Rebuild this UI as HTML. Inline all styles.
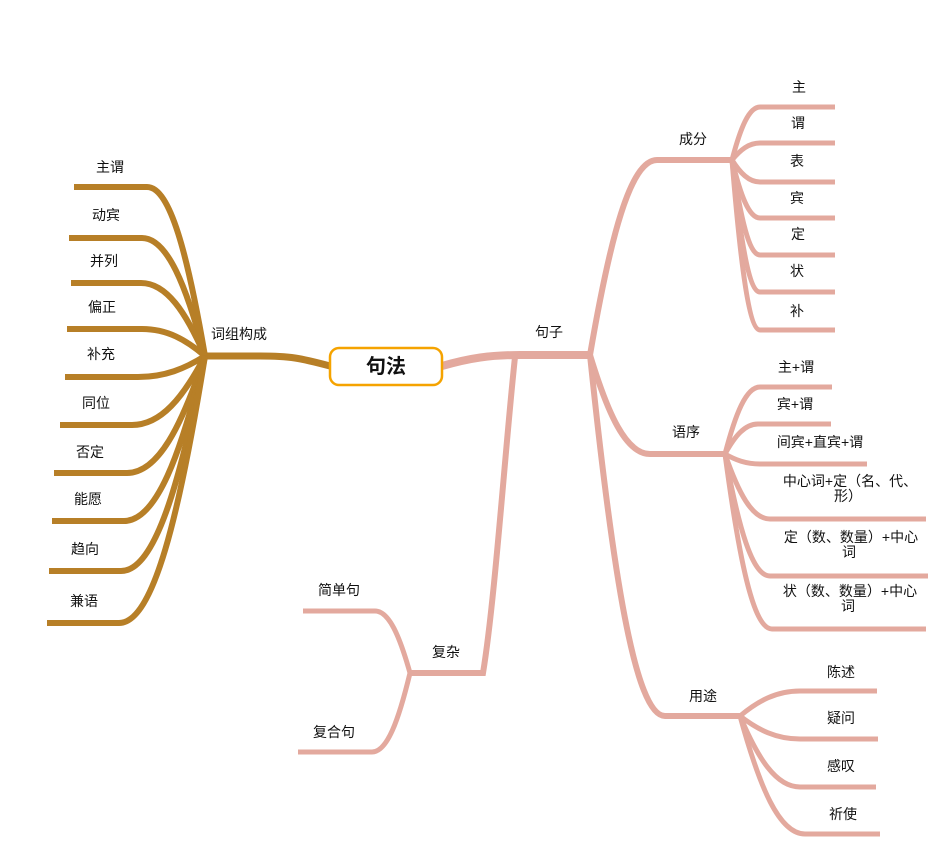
<!DOCTYPE html>
<html><head><meta charset="utf-8"><style>
html,body{margin:0;padding:0;background:#fff;}
svg{display:block;}
text{font-family:"Liberation Sans","Noto Sans CJK SC",sans-serif;font-size:14px;fill:#111;text-anchor:middle;}
</style></head><body>
<svg id="s" width="952" height="863" viewBox="0 0 952 863" xmlns="http://www.w3.org/2000/svg">
<g id="lines" fill="none" stroke-linecap="butt"></g>
<rect x="330" y="348" width="112" height="37" rx="9" fill="#fff" stroke="#f5a300" stroke-width="2.5"/>
<text x="386" y="373" style="font-size:20px;font-weight:bold">句法</text>
<g id="labels"></g>
</svg>
<script>
const P='#e3a99e',B='#b77f27';
const L=document.getElementById('lines'),T=document.getElementById('labels');
const NS='http://www.w3.org/2000/svg';
function path(d,c,w){const p=document.createElementNS(NS,'path');p.setAttribute('d',d);p.setAttribute('stroke',c);p.setAttribute('stroke-width',w);L.appendChild(p);}
function text(x,y,s){const t=document.createElementNS(NS,'text');t.setAttribute('x',x);t.setAttribute('y',y+5);t.textContent=s;T.appendChild(t);}
function br(hx,hy,sx,ly,ex,c,w){const dx=sx-hx,dy=ly-hy;
path(`M${hx},${hy} C${hx+dx*0.3},${hy+dy*0.6} ${hx+dx*0.6},${ly} ${sx},${ly} L${ex},${ly}`,c,w);}
path('M330,366 C300,358 290,356 260,356 L205,356',B,7);
text(239,334,'词组构成');
[[187,147,74,'主谓',110,167],[238,142,69,'动宾',106,215],[283,141,71,'并列',104,261],[329,142,67,'偏正',102,307],[377,138,65,'补充',101,354],[425,132,60,'同位',96,403],[473,127,54,'否定',90,452],[521,124,52,'能愿',88,499],[571,121,49,'趋向',85,549],[623,119,47,'兼语',84,601]].forEach(a=>{br(205,356,a[1],a[0],a[2],B,6);text(a[4],a[5],a[3]);});
path('M442,366 C470,358 490,355 520,355 L590,355',P,8);
text(549,332,'句子');
path('M515,357 C505,450 495,600 483,673 L410,673',P,6);
text(446,652,'复杂');
br(410,673,375,611,303,P,5);text(339,590,'简单句');
br(410,673,372,752,298,P,5);text(334,732,'复合句');
br(590,355,657,160,732,P,6);text(693,139,'成分');
br(590,355,650,454,725,P,6);text(686,432,'语序');
br(590,355,665,716,740,P,6);text(703,696,'用途');
[[107,'主',799,87],[143,'谓',798,123],[182,'表',797,161],[218,'宾',797,198],[255,'定',798,234],[292,'状',797,271],[330,'补',797,311]].forEach(a=>{br(732,160,760,a[0],835,P,5);text(a[2],a[3],a[1]);});
[[387,760,832,['主+谓'],796,367],[424,758,831,['宾+谓'],795,404],[464,760,867,['间宾+直宾+谓'],820,442],[519,770,926,['中心词+定（名、代、','形）'],850,481],[576,770,928,['定（数、数量）+中心','词'],851,537],[629,772,926,['状（数、数量）+中心','词'],850,591]].forEach(a=>{br(725,454,a[1],a[0],a[2],P,5);text(a[4],a[5],a[3][0]);if(a[3][1])text(a[4]-2,a[5]+15,a[3][1]);});
[[691,800,877,'陈述',841,672],[739,800,878,'疑问',841,718],[787,800,876,'感叹',841,766],[834,805,880,'祈使',843,814]].forEach(a=>{br(740,716,a[1],a[0],a[2],P,5);text(a[4],a[5],a[3]);});
</script>
</body></html>
